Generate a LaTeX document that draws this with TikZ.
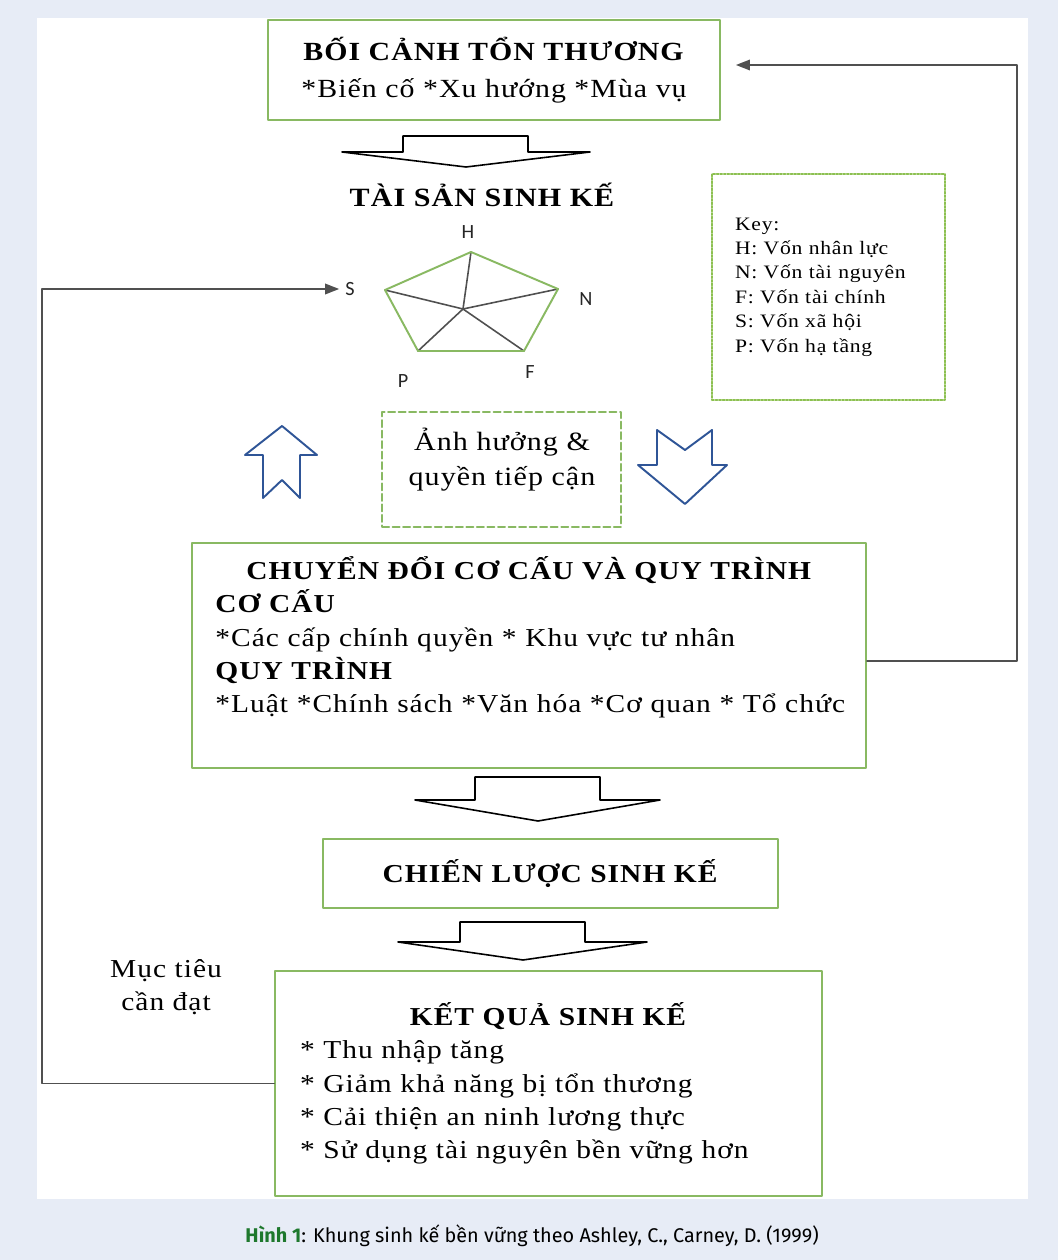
\documentclass[tikz,border=0pt]{standalone}
\usepackage{fontspec}
\setmainfont{Liberation Serif}[LetterSpace=4,FakeStretch=1.14]
\newfontfamily\pentfont{Carlito}
\newfontfamily\capfont{Fira Sans}
\usetikzlibrary{arrows.meta}

\definecolor{bgblue}{RGB}{231,236,246}
\definecolor{boxgreen}{RGB}{137,185,98}
\definecolor{keygreen}{RGB}{140,192,80}
\definecolor{arrowblue}{RGB}{47,85,151}
\definecolor{capgreen}{RGB}{30,120,45}
\definecolor{linegray}{RGB}{80,80,80}

\tikzset{
  greenbox/.style={draw=boxgreen, line width=1.1pt, fill=white, inner sep=0pt},
  keybox/.style={draw=keygreen, line width=1.2pt, dash pattern=on 1.1pt off 0.9pt},
  dashbox/.style={draw=boxgreen, line width=1.1pt, dash pattern=on 4pt off 2pt},
  hollow/.style={draw=black, line width=0.9pt, fill=white},
  bluearrow/.style={draw=arrowblue, line width=1.1pt, fill=white},
  spoke/.style={draw=linegray, line width=0.9pt},
  pentlbl/.style={font=\pentfont\fontsize{11.5}{12}\selectfont, text=black!85},
  feedback/.style={draw=linegray, line width=1pt, -{Triangle[length=8pt,width=6pt]}},
  body/.style={font=\fontsize{14.7}{19}\selectfont}
}

\begin{document}
\begin{tikzpicture}[x=0.02cm, y=-0.02cm, line cap=round, line join=round]
  \useasboundingbox (0,0) rectangle (1058,1260);
  \fill[bgblue] (0,0) rectangle (1058,1260);
  \fill[white] (37,18) rectangle (1028,1199);

  % boxes
  \node[greenbox, minimum width=9.04cm, minimum height=2cm, align=center,
        font=\fontsize{14.9}{21}\selectfont] (boi) at (494,70)
        {\textbf{BỐI CẢNH TỔN THƯƠNG}\\{}*Biến cố *Xu hướng *Mùa vụ};

  \node[font=\bfseries\fontsize{15}{19}\selectfont] (taisan) at (482,195) {TÀI SẢN SINH KẾ};

  \node[keybox, text width=3.74cm, inner xsep=0.46cm, minimum height=4.52cm, align=left,
        font=\fontsize{10.8}{13.9}\selectfont] (key) at (828.5,287)
        {Key:\\H: Vốn nhân lực\\N: Vốn tài nguyên\\F: Vốn tài chính\\S: Vốn xã hội\\P: Vốn hạ tầng};

  \node[dashbox, minimum width=4.78cm, minimum height=2.3cm] (anh) at (501.5,469.5) {};
  \node[align=center, font=\fontsize{15}{20}\selectfont] (anhtxt) at (502,460) {Ảnh hưởng \&\\quyền tiếp cận};

  \node[greenbox, minimum width=13.48cm, minimum height=4.5cm] (chuyen) at (529,655.5) {};
  \node[body, text width=12.56cm, align=left, anchor=north west, inner sep=0pt] (chuyentxt) at (215,556)
        {\hspace*{\fill}\textbf{CHUYỂN ĐỔI CƠ CẤU VÀ QUY TRÌNH}\hspace*{\fill}\null\\
         \textbf{CƠ CẤU}\\
         {}*Các cấp chính quyền * Khu vực tư nhân\\
         \textbf{QUY TRÌNH}\\
         \mbox{*Luật *Chính sách *Văn hóa *Cơ quan * Tổ chức}};

  \node[greenbox, body, minimum width=9.1cm, minimum height=1.38cm] (chienluoc) at (550.5,873.5)
        {\textbf{CHIẾN LƯỢC SINH KẾ}};

  \node[greenbox, body, text width=9.94cm, inner xsep=0.5cm, minimum height=4.5cm, align=left] (ketqua) at (548.5,1083.5)
        {\hspace*{\fill}\textbf{KẾT QUẢ SINH KẾ}\hspace*{\fill}\null\\
         {}* Thu nhập tăng\\
         {}* Giảm khả năng bị tổn thương\\
         {}* Cải thiện an ninh lương thực\\
         {}* Sử dụng tài nguyên bền vững hơn};

  \node[body, align=center] (muctieu) at (166,987) {Mục tiêu\\cần đạt};

  % block arrows
  \draw[hollow] (403,136) -- (528,136) -- (528,152) -- (590,152) -- (466,167) -- (342,152) -- (403,152) -- cycle;
  \draw[hollow] (475,777) -- (600,777) -- (600,800) -- (660,800) -- (538,821) -- (415,800) -- (475,800) -- cycle;
  \draw[hollow] (460,922) -- (585,922) -- (585,942) -- (647,942) -- (523,960) -- (398,942) -- (460,942) -- cycle;

  \draw[bluearrow] (282,426) -- (317,455) -- (300,455) -- (300,498) -- (282,480) -- (263,498) -- (263,455) -- (245,455) -- cycle;
  \draw[bluearrow] (657,430) -- (685,450) -- (712,430) -- (712,465) -- (727,465) -- (685,504) -- (638,465) -- (657,465) -- cycle;

  % asset pentagon
  \coordinate (H) at (471,252);
  \coordinate (N) at (558,289);
  \coordinate (F) at (524,351);
  \coordinate (P) at (418,351);
  \coordinate (S) at (385,290);
  \coordinate (O) at (463,309);
  \foreach \v in {H,N,F,P,S}
    \draw[spoke] (O) -- (\v);
  \draw[boxgreen, line width=1.1pt] (H) -- (N) -- (F) -- (P) -- (S) -- cycle;

  \node[pentlbl] (lH) at (468,232) {H};
  \node[pentlbl] (lN) at (586,299) {N};
  \node[pentlbl] (lF) at (530,372) {F};
  \node[pentlbl] (lP) at (403,381) {P};
  \node[pentlbl] (lS) at (350,289) {S};

  % feedback lines
  \draw[feedback] ([yshift=-0.11cm]chuyen.east) -| (1017,65) -- ([xshift=0.3cm,yshift=0.1cm]boi.east);
  \draw[feedback] (ketqua.west) -| (lS.west -| 42,0) -- (lS.west);

  \node[font=\capfont\fontsize{11.3}{13}\selectfont] (caption) at (532,1236)
        {\textcolor{capgreen}{\bfseries Hình 1}: Khung sinh kế bền vững theo Ashley, C., Carney, D. (1999)};
\end{tikzpicture}
\end{document}
